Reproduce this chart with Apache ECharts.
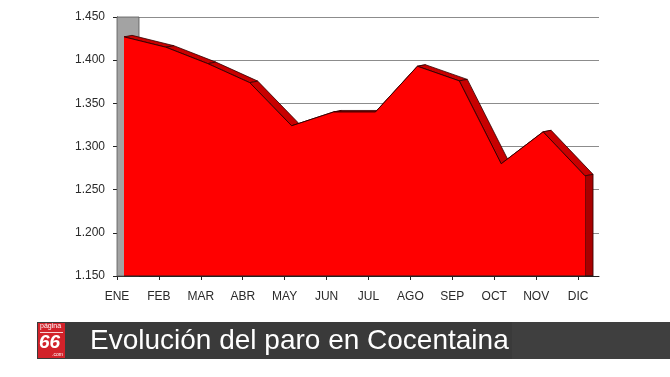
<!DOCTYPE html>
<html>
<head>
<meta charset="utf-8">
<script src="https://cdn.jsdelivr.net/npm/echarts@6/dist/echarts.min.js"></script>
<style>
  html, body { margin: 0; padding: 0; background: #fff; }
  #paro { width: 670px; height: 377px; }
</style>
</head>
<body>
<div id="paro"></div>
<script>
  // meses y parados registrados
  var meses = ['ENE', 'FEB', 'MAR', 'ABR', 'MAY', 'JUN', 'JUL', 'AGO', 'SEP', 'OCT', 'NOV', 'DIC'];
  var parados = [1427, 1415, 1396, 1374, 1324, 1340, 1340, 1393, 1376, 1280, 1317, 1266];
  var yMin = 1150, yMax = 1450, yPaso = 50;
  var titulo = 'Evolución del paro en Cocentaina';

  var FUENTE = '"Liberation Sans", Arial, sans-serif';
  var OFF = 7;          // desplazamiento de la cara frontal
  var DX = 8, DY = -1.5; // profundidad 3D

  var myChart = echarts.init(document.getElementById('paro'));

  function dibujarArea(params, api) {
    if (params.dataIndex !== 0) return null;
    var n = meses.length;
    var pts = [], bas = [];
    for (var i = 0; i < n; i++) {
      var p = api.coord([i, parados[i]]);
      var b = api.coord([i, yMin]);
      pts.push([p[0] + OFF, p[1]]);
      bas.push([b[0] + OFF, b[1]]);
    }
    var children = [];
    // pared gris izquierda
    var wTop = api.coord([0, yMax]);
    var wBot = api.coord([0, yMin]);
    children.push({
      type: 'rect',
      shape: { x: wTop[0], y: wTop[1], width: 22, height: wBot[1] - wTop[1] },
      style: { fill: '#a3a3a3', stroke: '#555', lineWidth: 0.8 }
    });
    // caras superiores
    for (var j = 0; j < n - 1; j++) {
      var a = pts[j], c = pts[j + 1];
      children.push({
        type: 'polygon',
        shape: { points: [a, c, [c[0] + DX, c[1] + DY], [a[0] + DX, a[1] + DY]] },
        style: { fill: '#c80000', stroke: '#300000', lineWidth: 0.8 }
      });
    }
    // cara lateral derecha
    var pl = pts[n - 1], bl = bas[n - 1];
    children.push({
      type: 'polygon',
      shape: { points: [pl, [pl[0] + DX, pl[1] + DY], [bl[0] + DX, bl[1]], bl] },
      style: { fill: '#a80000', stroke: '#300000', lineWidth: 0.8 }
    });
    // cara frontal
    var frente = pts.concat([bas[n - 1], bas[0]]);
    children.push({
      type: 'polygon',
      shape: { points: frente },
      style: { fill: '#ff0000', stroke: null }
    });
    children.push({
      type: 'polyline',
      shape: { points: pts },
      style: { fill: null, stroke: '#3a0000', lineWidth: 1 }
    });
    children.push({
      type: 'polyline',
      shape: { points: [[bas[0][0], bas[0][1]], [bl[0] + DX, bl[1]]] },
      style: { fill: null, stroke: '#222', lineWidth: 1 }
    });
    return { type: 'group', children: children };
  }

  var option = {
    animation: false,
    backgroundColor: '#fff',
    grid: { left: 117, right: 71, top: 17, bottom: 101 },
    xAxis: {
      type: 'value',
      min: 0,
      max: 11.5,
      interval: 1,
      splitLine: { show: false },
      axisLine: { show: true, lineStyle: { color: '#222', width: 1 } },
      axisTick: { show: true, length: 4, lineStyle: { color: '#222' } },
      axisLabel: {
        margin: 15,
        color: '#2a2a2a',
        fontSize: 12,
        fontFamily: FUENTE,
        showMaxLabel: false,
        formatter: function (v) { return meses[v] || ''; }
      }
    },
    yAxis: {
      type: 'value',
      min: yMin,
      max: yMax,
      interval: yPaso,
      axisLine: { show: true, lineStyle: { color: '#222', width: 1 } },
      axisTick: { show: true, length: 4, lineStyle: { color: '#222' } },
      splitLine: { show: true, lineStyle: { color: '#8c8c8c', width: 1 } },
      axisLabel: {
        margin: 12,
        color: '#2a2a2a',
        fontSize: 12,
        fontFamily: FUENTE,
        formatter: function (v) { return (v / 1000).toFixed(3); }
      }
    },
    series: [{
      type: 'custom',
      renderItem: dibujarArea,
      data: parados.map(function (v, i) { return [i, v]; }),
      z: 3
    }],
    graphic: [
      { type: 'rect', left: 37, top: 322, shape: { width: 633, height: 37 }, style: { fill: '#3a3a3a' } },
      { type: 'rect', left: 512, top: 322, shape: { width: 158, height: 37 }, style: { fill: '#3f3f3f' } },
      { type: 'rect', left: 38, top: 323, shape: { width: 27, height: 35 }, style: { fill: '#d2222a' } },
      { type: 'text', left: 40, top: 323, style: { text: 'página', fill: '#fff', font: '7px ' + FUENTE } },
      { type: 'rect', left: 40, top: 332, shape: { width: 23, height: 0.8 }, style: { fill: '#fff' } },
      { type: 'text', left: 39, top: 333, style: { text: '66', fill: '#fff', font: 'italic bold 19px ' + FUENTE } },
      { type: 'text', left: 52, top: 352, style: { text: '.com', fill: '#fff', font: '5px ' + FUENTE } },
      { type: 'text', x: 90, y: 341, style: { text: titulo, fill: '#fff', font: '28px ' + FUENTE, textVerticalAlign: 'middle' } }
    ]
  };

  myChart.setOption(option);
</script>
</body>
</html>
